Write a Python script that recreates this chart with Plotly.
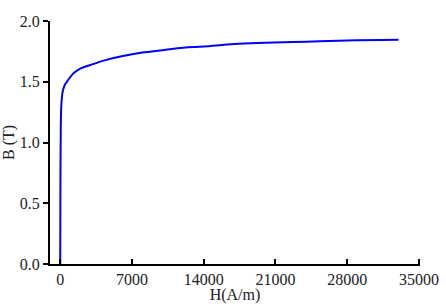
import plotly.graph_objects as go

H = [0, 10, 20, 35, 50, 70, 100, 150, 200, 300, 450, 650, 900, 1300, 2000, 3000, 4500, 6000, 8000, 10000, 12000, 14000, 17000, 20000, 24000, 28000, 33000]
B = [0, 0.4, 0.7, 0.95, 1.1, 1.22, 1.3, 1.36, 1.40, 1.44, 1.475, 1.50, 1.53, 1.57, 1.61, 1.64, 1.68, 1.71, 1.74, 1.76, 1.78, 1.79, 1.81, 1.82, 1.83, 1.84, 1.845]

x_ticks = [0, 7000, 14000, 21000, 28000, 35000]
y_ticks = [0.0, 0.5, 1.0, 1.5, 2.0]

fig = go.Figure()
fig.add_trace(go.Scatter(x=H, y=B, mode="lines", line=dict(color="#0000ff", width=2, shape="spline"), showlegend=False))

font = dict(family="Liberation Serif", size=16, color="#222")
fig.update_layout(
    width=446, height=304,
    margin=dict(l=50, r=26, t=21, b=40, autoexpand=False),
    plot_bgcolor="white", paper_bgcolor="white",
    font=font,
    xaxis=dict(range=[-1000, 35100], tickvals=x_ticks, ticktext=[str(v) for v in x_ticks],
               showline=True, linecolor="black", linewidth=2, ticks="inside", ticklen=5, tickwidth=2,
               tickcolor="black", showgrid=False, zeroline=False, automargin=False,
               title=dict(text="H(A/m)", standoff=3, font=font)),
    yaxis=dict(range=[0, 2], tickvals=y_ticks, ticktext=[f"{v:.1f}" for v in y_ticks],
               showline=True, linecolor="black", linewidth=2, ticks="outside", ticklen=5, tickwidth=2,
               tickcolor="black", showgrid=False, zeroline=False, automargin=False,
               title=dict(text="B (T)", standoff=4, font=font)),
)
fig.write_html("out.html")
